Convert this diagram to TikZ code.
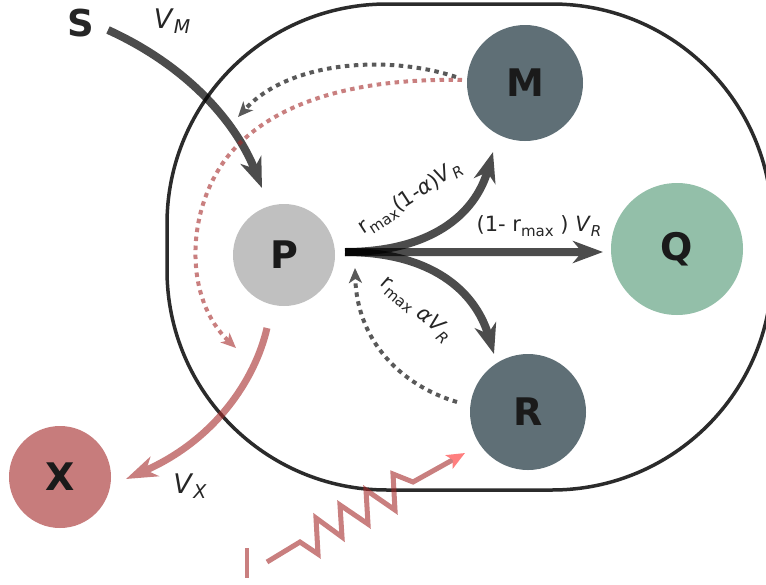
\documentclass[tikz,border=0pt]{standalone}
\usepackage{fontspec}
\setmainfont{DejaVu Sans}
\usetikzlibrary{arrows.meta}
\definecolor{slate}{HTML}{5F6F76}
\definecolor{pgray}{HTML}{C0C0C0}
\definecolor{qgreen}{HTML}{93BFA9}
\definecolor{xred}{HTML}{C77C7C}
\definecolor{brownred}{HTML}{A52A2A}
\definecolor{tipred}{HTML}{FF2B2B}
\definecolor{txt}{HTML}{1A1A1A}
\definecolor{lbltxt}{HTML}{262626}
\definecolor{outlinec}{HTML}{2B2B2B}
\newcommand{\lsub}[1]{\raisebox{-4.5pt}{\fontsize{15}{15}\selectfont #1}}
\newcommand{\bsub}[1]{\raisebox{-5.5pt}{\fontsize{19}{19}\selectfont #1}}
\begin{document}
\begin{tikzpicture}[x=1pt,y=-1pt,
  species/.style={circle,inner sep=0pt,font=\fontsize{38}{38}\selectfont\bfseries,text=txt},
  lbl/.style={inner sep=0pt,text=lbltxt,font=\fontsize{21}{24}\selectfont},
  biglbl/.style={inner sep=0pt,text=lbltxt,font=\fontsize{27}{30}\selectfont},
  fluxarrow/.style={line width=8pt,draw=black,-{Stealth[length=30pt,width=22pt,inset=9pt]}},
  redarrow/.style={line width=7pt,draw=brownred,-{Stealth[length=31pt,width=21pt,inset=9pt]}},
  dotline/.style={line width=4pt,dash pattern=on 4.5pt off 4.5pt,-{Stealth[length=15pt,width=13pt,inset=4pt]}},
  grp/.style={transparency group,opacity=#1},
]
\useasboundingbox (0,0) rectangle (766,584);
\fill[white] (0,0) rectangle (766,584);

% species
\node[species,fill=pgray,minimum size=102pt] (P) at (284,255) {P};
\node[species,fill=slate,minimum size=116pt] (M) at (525,83) {M};
\node[species,fill=slate,minimum size=116pt] (R) at (528,412) {R};
\node[species,fill=qgreen,minimum size=132pt] (Q) at (677,249) {Q};
\node[species,fill=xred,minimum size=102pt] (X) at (60,477) {X};
\node[font=\fontsize{37}{37}\selectfont\bfseries,text=lbltxt,inner sep=0pt] (S) at (81,23) {S};

% cell outline
\draw[outlinec,line width=3.5pt,rounded corners=220pt] (167,4) rectangle (772,490);

% endpoints
\coordinate (sout) at (108,30);
\coordinate (pin) at (262,188);
\coordinate (pout) at (345,252);
\coordinate (mtip) at (493,152);
\coordinate (qtip) at (603,252);
\coordinate (rtip) at (494,354);
\coordinate (mdot) at (456,77);
\coordinate (mdotend) at (238,117);
\coordinate (mred) at (462,80);
\coordinate (mredend) at (236,348);
\coordinate (rdot) at (457,402);
\coordinate (rdotend) at (355,268);
\coordinate (pxout) at (267,328);
\coordinate (xtip) at (126,479);
\coordinate (zs) at (267,562);
\coordinate (zt) at (465,453);
\coordinate (bar1) at (247,548);
\coordinate (bar2) at (247,578);

% uptake V_M
\begin{scope}[grp=0.7]
\draw[fluxarrow] (sout) .. controls (185,65) and (235,120) .. (pin);
\end{scope}
% P branches
\begin{scope}[grp=0.7]
\draw[fluxarrow] (pout) .. controls (430,252) and (475,215) .. (mtip);
\end{scope}
\begin{scope}[grp=0.7]
\draw[fluxarrow] (pout) -- (qtip);
\end{scope}
\begin{scope}[grp=0.7]
\draw[fluxarrow] (pout) .. controls (430,252) and (475,290) .. (rtip);
\end{scope}

% dotted feedbacks
\begin{scope}[grp=0.65]
\draw[dotline,black] (mdot) .. controls (390,55) and (290,60) .. (mdotend);
\end{scope}
\begin{scope}[grp=0.6]
\draw[dotline,brownred] (mred) .. controls (360,78) and (270,100) .. (225,160)
  .. controls (185,215) and (185,300) .. (mredend);
\end{scope}
\begin{scope}[grp=0.65]
\draw[dotline,black] (rdot) .. controls (400,385) and (357,340) .. (rdotend);
\end{scope}

% export V_X
\begin{scope}[grp=0.6]
\draw[redarrow] (pxout) .. controls (255,380) and (215,440) .. (xtip);
\end{scope}

% light
\begin{scope}[grp=0.6]
\draw[brownred,line width=5pt,miter limit=10,-{Stealth[length=18pt,width=15pt,inset=4pt,color=tipred]}]
  (zs) -- (300,542) -- (318,554) -- (316,518) -- (342,537) -- (340,505) -- (368,524)
  -- (366,490) -- (395,510) -- (393,474) -- (413,482) -- (zt);
\end{scope}
\draw[brownred,opacity=0.6,line width=4pt] (bar1) -- (bar2);

% labels
\node[biglbl] (vm) at (172,21) {\textit{V}\bsub{\textit{M}}};
\node[biglbl] (vx) at (190,486) {\textit{V}\bsub{\textit{X}}};
\node[lbl,rotate=33] (l1) at (410,198) {r\lsub{max}(1-\textit{α})\textit{V}\lsub{\textit{R}}};
\node[lbl] (l2) at (539,226) {(1- r\lsub{max} ) \textit{V}\lsub{\textit{R}}};
\node[lbl,rotate=-41] (l3) at (416,309) {r\lsub{max} \textit{α}\textit{V}\lsub{\textit{R}}};
\end{tikzpicture}
\end{document}
